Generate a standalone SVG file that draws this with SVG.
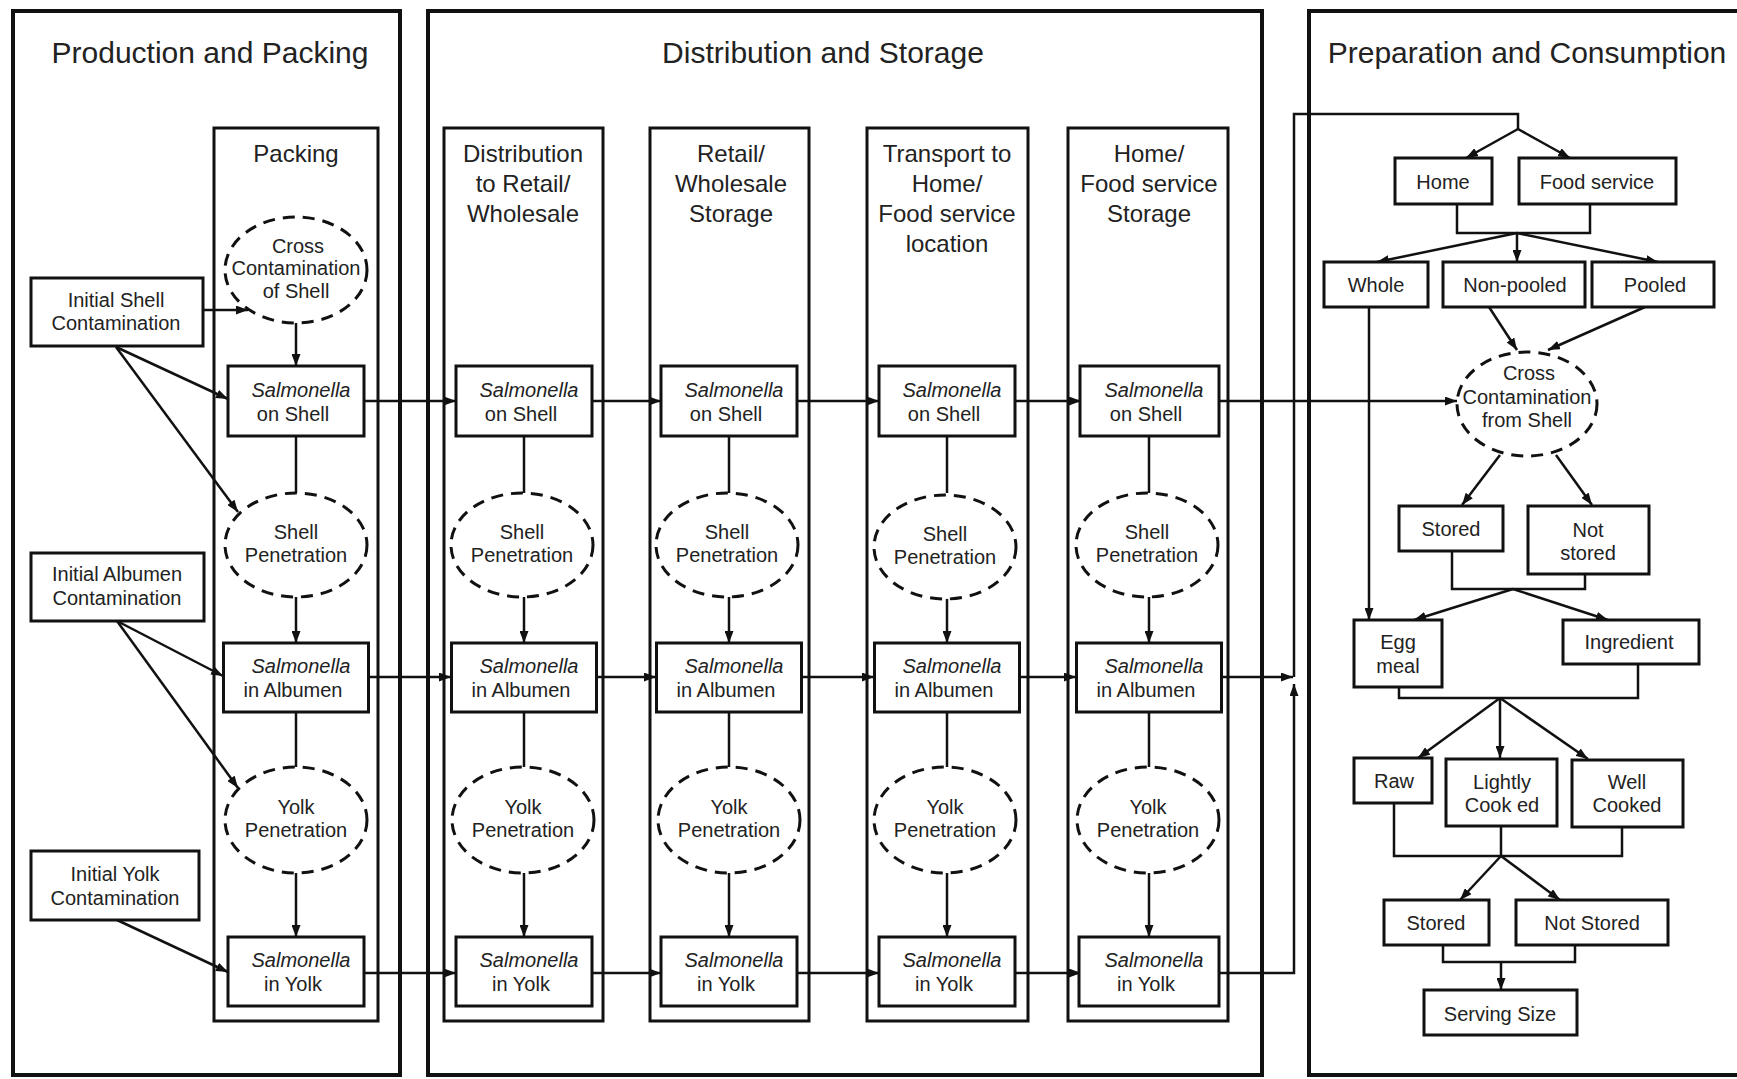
<svg xmlns="http://www.w3.org/2000/svg" width="1737" height="1079" viewBox="0 0 1737 1079">
<defs>
<style>
.panel{fill:none;stroke:#111;stroke-width:4}
.col{fill:none;stroke:#111;stroke-width:3}
.box{fill:#fff;stroke:#111;stroke-width:3}
.ell{fill:#fff;stroke:#111;stroke-width:3;stroke-dasharray:12 8}
.c{fill:none;stroke:#111;stroke-width:2.5}
.a{marker-end:url(#ah)}
text{font-family:"Liberation Sans",Arial,Helvetica,sans-serif;fill:#222;text-anchor:middle}
.t1{font-size:30px}
.t2{font-size:24px}
.t3{font-size:20px}
.i{font-style:italic}
</style>
<marker id="ah" viewBox="0 0 12 9" refX="12" refY="4.5" markerWidth="12" markerHeight="9" markerUnits="userSpaceOnUse" orient="auto"><path d="M0,0 L12,4.5 L0,9 z" fill="#111"/></marker>
</defs>
<rect width="1737" height="1079" fill="#fff"/>

<g id="panels">
<rect class="panel" x="13" y="11" width="387" height="1064"/>
<text class="t1" x="210" y="63">Production and Packing</text>
<rect class="panel" x="428" y="11" width="834" height="1064"/>
<text class="t1" x="823" y="63">Distribution and Storage</text>
<rect class="panel" x="1309" y="11" width="440" height="1064"/>
<text class="t1" x="1527" y="63">Preparation and Consumption</text>
</g>

<g id="columns">
<rect class="col" x="214" y="128" width="164" height="893"/>
<text class="t2" x="296" y="162">Packing</text>
<rect class="col" x="444" y="128" width="159" height="893"/>
<text class="t2" x="523" y="162">Distribution</text>
<text class="t2" x="523" y="192">to Retail/</text>
<text class="t2" x="523" y="222">Wholesale</text>
<rect class="col" x="650" y="128" width="159" height="893"/>
<text class="t2" x="731" y="162">Retail/</text>
<text class="t2" x="731" y="192">Wholesale</text>
<text class="t2" x="731" y="222">Storage</text>
<rect class="col" x="867" y="128" width="161" height="893"/>
<text class="t2" x="947" y="162">Transport to</text>
<text class="t2" x="947" y="192">Home/</text>
<text class="t2" x="947" y="222">Food service</text>
<text class="t2" x="947" y="252">location</text>
<rect class="col" x="1068" y="128" width="160" height="893"/>
<text class="t2" x="1149" y="162">Home/</text>
<text class="t2" x="1149" y="192">Food service</text>
<text class="t2" x="1149" y="222">Storage</text>
</g>

<g id="connectors">
<!-- packing inputs -->
<path class="c a" d="M203,310 H248"/>
<path class="c a" d="M296,323 V366"/>
<path class="c a" d="M116,347 L228,399"/>
<path class="c a" d="M116,347 L238,512"/>
<path class="c a" d="M117,621 L223,676"/>
<path class="c a" d="M117,621 L238,788"/>
<path class="c a" d="M117,920 L228,972"/>
<!-- vertical within columns -->
<path class="c" d="M296,436 V493 M524,436 V493 M729,436 V493 M947,436 V493 M1149,436 V493"/>
<path class="c a" d="M296,597 V643"/>
<path class="c a" d="M524,597 V643"/>
<path class="c a" d="M729,597 V643"/>
<path class="c a" d="M947,597 V643"/>
<path class="c a" d="M1149,597 V643"/>
<path class="c" d="M296,712 V767 M524,712 V767 M729,712 V767 M947,712 V767 M1149,712 V767"/>
<path class="c a" d="M296,873 V937"/>
<path class="c a" d="M524,873 V937"/>
<path class="c a" d="M729,873 V937"/>
<path class="c a" d="M947,873 V937"/>
<path class="c a" d="M1149,873 V937"/>
<!-- shell row -->
<path class="c a" d="M364,401 H456"/>
<path class="c a" d="M592,401 H661"/>
<path class="c a" d="M797,401 H879"/>
<path class="c a" d="M1015,401 H1081"/>
<path class="c a" d="M1217,401 H1457"/>
<!-- albumen row -->
<path class="c a" d="M368,677 H451"/>
<path class="c a" d="M596,677 H656"/>
<path class="c a" d="M801,677 H874"/>
<path class="c a" d="M1019,677 H1076"/>
<path class="c a" d="M1221,677 H1293"/>
<!-- yolk row -->
<path class="c a" d="M364,973 H456"/>
<path class="c a" d="M592,973 H661"/>
<path class="c a" d="M797,973 H879"/>
<path class="c a" d="M1015,973 H1081"/>
<path class="c a" d="M1217,973 H1294 V684"/>
<!-- to preparation -->
<path class="c" d="M1294,677 V114 H1518 V129"/>
<path class="c a" d="M1518,129 L1466,158"/>
<path class="c a" d="M1518,129 L1570,158"/>
<path class="c" d="M1457,204 V233 H1590 V204"/>
<path class="c a" d="M1517,233 L1377,262"/>
<path class="c a" d="M1517,233 V262"/>
<path class="c a" d="M1517,233 L1658,262"/>
<path class="c a" d="M1369,307 V620"/>
<path class="c a" d="M1489,307 L1517,350"/>
<path class="c a" d="M1645,307 L1548,350"/>
<path class="c a" d="M1500,455 L1462,505"/>
<path class="c a" d="M1556,455 L1592,505"/>
<path class="c" d="M1452,551 V589 H1585 V574"/>
<path class="c a" d="M1513,589 L1414,620"/>
<path class="c a" d="M1513,589 L1608,620"/>
<path class="c" d="M1399,687 V698 H1638 V664"/>
<path class="c a" d="M1500,698 L1418,758"/>
<path class="c a" d="M1500,698 V758"/>
<path class="c a" d="M1500,698 L1588,759"/>
<path class="c" d="M1394,803 V856 H1622 V827 M1501,826 V856"/>
<path class="c a" d="M1501,856 L1460,900"/>
<path class="c a" d="M1501,856 L1560,900"/>
<path class="c" d="M1443,945 V962 H1575 V945"/>
<path class="c a" d="M1501,962 V990"/>
</g>

<g id="init-shell"><rect class="box" x="31" y="278" width="172" height="68"/><text class="t3" x="116" y="307">Initial Shell</text><text class="t3" x="116" y="330">Contamination</text></g>
<g id="init-albumen"><rect class="box" x="31" y="553" width="173" height="68"/><text class="t3" x="117" y="581">Initial Albumen</text><text class="t3" x="117" y="605">Contamination</text></g>
<g id="init-yolk"><rect class="box" x="31" y="851" width="168" height="69"/><text class="t3" x="115" y="881">Initial Yolk</text><text class="t3" x="115" y="905">Contamination</text></g>
<g id="pk-cross"><ellipse class="ell" cx="296" cy="270" rx="71" ry="53"/><text class="t3" x="298" y="253">Cross</text><text class="t3" x="296" y="275">Contamination</text><text class="t3" x="296" y="298">of Shell</text></g>

<g id="pk-shell"><rect class="box" x="228" y="366" width="136" height="70"/><text class="t3 i" x="301" y="397">Salmonella</text><text class="t3" x="293" y="421">on Shell</text></g>
<g id="pk-shellpen"><ellipse class="ell" cx="296" cy="545" rx="71" ry="52"/><text class="t3" x="296" y="539">Shell</text><text class="t3" x="296" y="562">Penetration</text></g>
<g id="pk-alb"><rect class="box" x="223.5" y="643" width="145" height="69"/><text class="t3 i" x="301" y="673">Salmonella</text><text class="t3" x="293" y="697">in Albumen</text></g>
<g id="pk-yolkpen"><ellipse class="ell" cx="296" cy="820" rx="71" ry="53"/><text class="t3" x="296" y="814">Yolk</text><text class="t3" x="296" y="837">Penetration</text></g>
<g id="pk-yolk"><rect class="box" x="228" y="937" width="136" height="69"/><text class="t3 i" x="301" y="967">Salmonella</text><text class="t3" x="293" y="991">in Yolk</text></g>

<g id="di-shell"><rect class="box" x="456" y="366" width="136" height="70"/><text class="t3 i" x="529" y="397">Salmonella</text><text class="t3" x="521" y="421">on Shell</text></g>
<g id="di-shellpen"><ellipse class="ell" cx="522" cy="545" rx="71" ry="52"/><text class="t3" x="522" y="539">Shell</text><text class="t3" x="522" y="562">Penetration</text></g>
<g id="di-alb"><rect class="box" x="451.5" y="643" width="145" height="69"/><text class="t3 i" x="529" y="673">Salmonella</text><text class="t3" x="521" y="697">in Albumen</text></g>
<g id="di-yolkpen"><ellipse class="ell" cx="523" cy="820" rx="71" ry="53"/><text class="t3" x="523" y="814">Yolk</text><text class="t3" x="523" y="837">Penetration</text></g>
<g id="di-yolk"><rect class="box" x="456" y="937" width="136" height="69"/><text class="t3 i" x="529" y="967">Salmonella</text><text class="t3" x="521" y="991">in Yolk</text></g>

<g id="re-shell"><rect class="box" x="661" y="366" width="136" height="70"/><text class="t3 i" x="734" y="397">Salmonella</text><text class="t3" x="726" y="421">on Shell</text></g>
<g id="re-shellpen"><ellipse class="ell" cx="727" cy="545" rx="71" ry="52"/><text class="t3" x="727" y="539">Shell</text><text class="t3" x="727" y="562">Penetration</text></g>
<g id="re-alb"><rect class="box" x="656.5" y="643" width="145" height="69"/><text class="t3 i" x="734" y="673">Salmonella</text><text class="t3" x="726" y="697">in Albumen</text></g>
<g id="re-yolkpen"><ellipse class="ell" cx="729" cy="820" rx="71" ry="53"/><text class="t3" x="729" y="814">Yolk</text><text class="t3" x="729" y="837">Penetration</text></g>
<g id="re-yolk"><rect class="box" x="661" y="937" width="136" height="69"/><text class="t3 i" x="734" y="967">Salmonella</text><text class="t3" x="726" y="991">in Yolk</text></g>

<g id="tr-shell"><rect class="box" x="879" y="366" width="136" height="70"/><text class="t3 i" x="952" y="397">Salmonella</text><text class="t3" x="944" y="421">on Shell</text></g>
<g id="tr-shellpen"><ellipse class="ell" cx="945" cy="547" rx="71" ry="52"/><text class="t3" x="945" y="541">Shell</text><text class="t3" x="945" y="564">Penetration</text></g>
<g id="tr-alb"><rect class="box" x="874.5" y="643" width="145" height="69"/><text class="t3 i" x="952" y="673">Salmonella</text><text class="t3" x="944" y="697">in Albumen</text></g>
<g id="tr-yolkpen"><ellipse class="ell" cx="945" cy="820" rx="71" ry="53"/><text class="t3" x="945" y="814">Yolk</text><text class="t3" x="945" y="837">Penetration</text></g>
<g id="tr-yolk"><rect class="box" x="879" y="937" width="136" height="69"/><text class="t3 i" x="952" y="967">Salmonella</text><text class="t3" x="944" y="991">in Yolk</text></g>

<g id="ho-shell"><rect class="box" x="1080" y="366" width="139" height="70"/><text class="t3 i" x="1154" y="397">Salmonella</text><text class="t3" x="1146" y="421">on Shell</text></g>
<g id="ho-shellpen"><ellipse class="ell" cx="1147" cy="545" rx="71" ry="52"/><text class="t3" x="1147" y="539">Shell</text><text class="t3" x="1147" y="562">Penetration</text></g>
<g id="ho-alb"><rect class="box" x="1076.5" y="643" width="145" height="69"/><text class="t3 i" x="1154" y="673">Salmonella</text><text class="t3" x="1146" y="697">in Albumen</text></g>
<g id="ho-yolkpen"><ellipse class="ell" cx="1148" cy="820" rx="71" ry="53"/><text class="t3" x="1148" y="814">Yolk</text><text class="t3" x="1148" y="837">Penetration</text></g>
<g id="ho-yolk"><rect class="box" x="1079" y="937" width="140" height="69"/><text class="t3 i" x="1154" y="967">Salmonella</text><text class="t3" x="1146" y="991">in Yolk</text></g>

<g id="pc-home"><rect class="box" x="1395" y="158" width="97" height="46"/><text class="t3" x="1443" y="189">Home</text></g>
<g id="pc-foodservice"><rect class="box" x="1519" y="158" width="157" height="46"/><text class="t3" x="1597" y="189">Food service</text></g>
<g id="pc-whole"><rect class="box" x="1324" y="262" width="104" height="45"/><text class="t3" x="1376" y="292">Whole</text></g>
<g id="pc-nonpooled"><rect class="box" x="1443" y="262" width="142" height="45"/><text class="t3" x="1515" y="292">Non-pooled</text></g>
<g id="pc-pooled"><rect class="box" x="1592" y="262" width="122" height="45"/><text class="t3" x="1655" y="292">Pooled</text></g>
<g id="pc-cross"><ellipse class="ell" cx="1527" cy="404" rx="70" ry="52"/><text class="t3" x="1529" y="380">Cross</text><text class="t3" x="1527" y="404">Contamination</text><text class="t3" x="1527" y="427">from Shell</text></g>
<g id="pc-stored1"><rect class="box" x="1399" y="506" width="104" height="45"/><text class="t3" x="1451" y="536">Stored</text></g>
<g id="pc-notstored1"><rect class="box" x="1528" y="506" width="121" height="68"/><text class="t3" x="1588" y="537">Not</text><text class="t3" x="1588" y="560">stored</text></g>
<g id="pc-eggmeal"><rect class="box" x="1354" y="620" width="88" height="67"/><text class="t3" x="1398" y="649">Egg</text><text class="t3" x="1398" y="673">meal</text></g>
<g id="pc-ingredient"><rect class="box" x="1563" y="620" width="136" height="44"/><text class="t3" x="1629" y="649">Ingredient</text></g>
<g id="pc-raw"><rect class="box" x="1354" y="758" width="78" height="45"/><text class="t3" x="1394" y="788">Raw</text></g>
<g id="pc-lightly"><rect class="box" x="1446" y="759" width="111" height="67"/><text class="t3" x="1502" y="789">Lightly</text><text class="t3" x="1502" y="812">Cook ed</text></g>
<g id="pc-well"><rect class="box" x="1572" y="760" width="111" height="67"/><text class="t3" x="1627" y="789">Well</text><text class="t3" x="1627" y="812">Cooked</text></g>
<g id="pc-stored2"><rect class="box" x="1384" y="900" width="105" height="45"/><text class="t3" x="1436" y="930">Stored</text></g>
<g id="pc-notstored2"><rect class="box" x="1516" y="900" width="152" height="45"/><text class="t3" x="1592" y="930">Not Stored</text></g>
<g id="pc-serving"><rect class="box" x="1424" y="990" width="153" height="45"/><text class="t3" x="1500" y="1021">Serving Size</text></g>
</svg>
